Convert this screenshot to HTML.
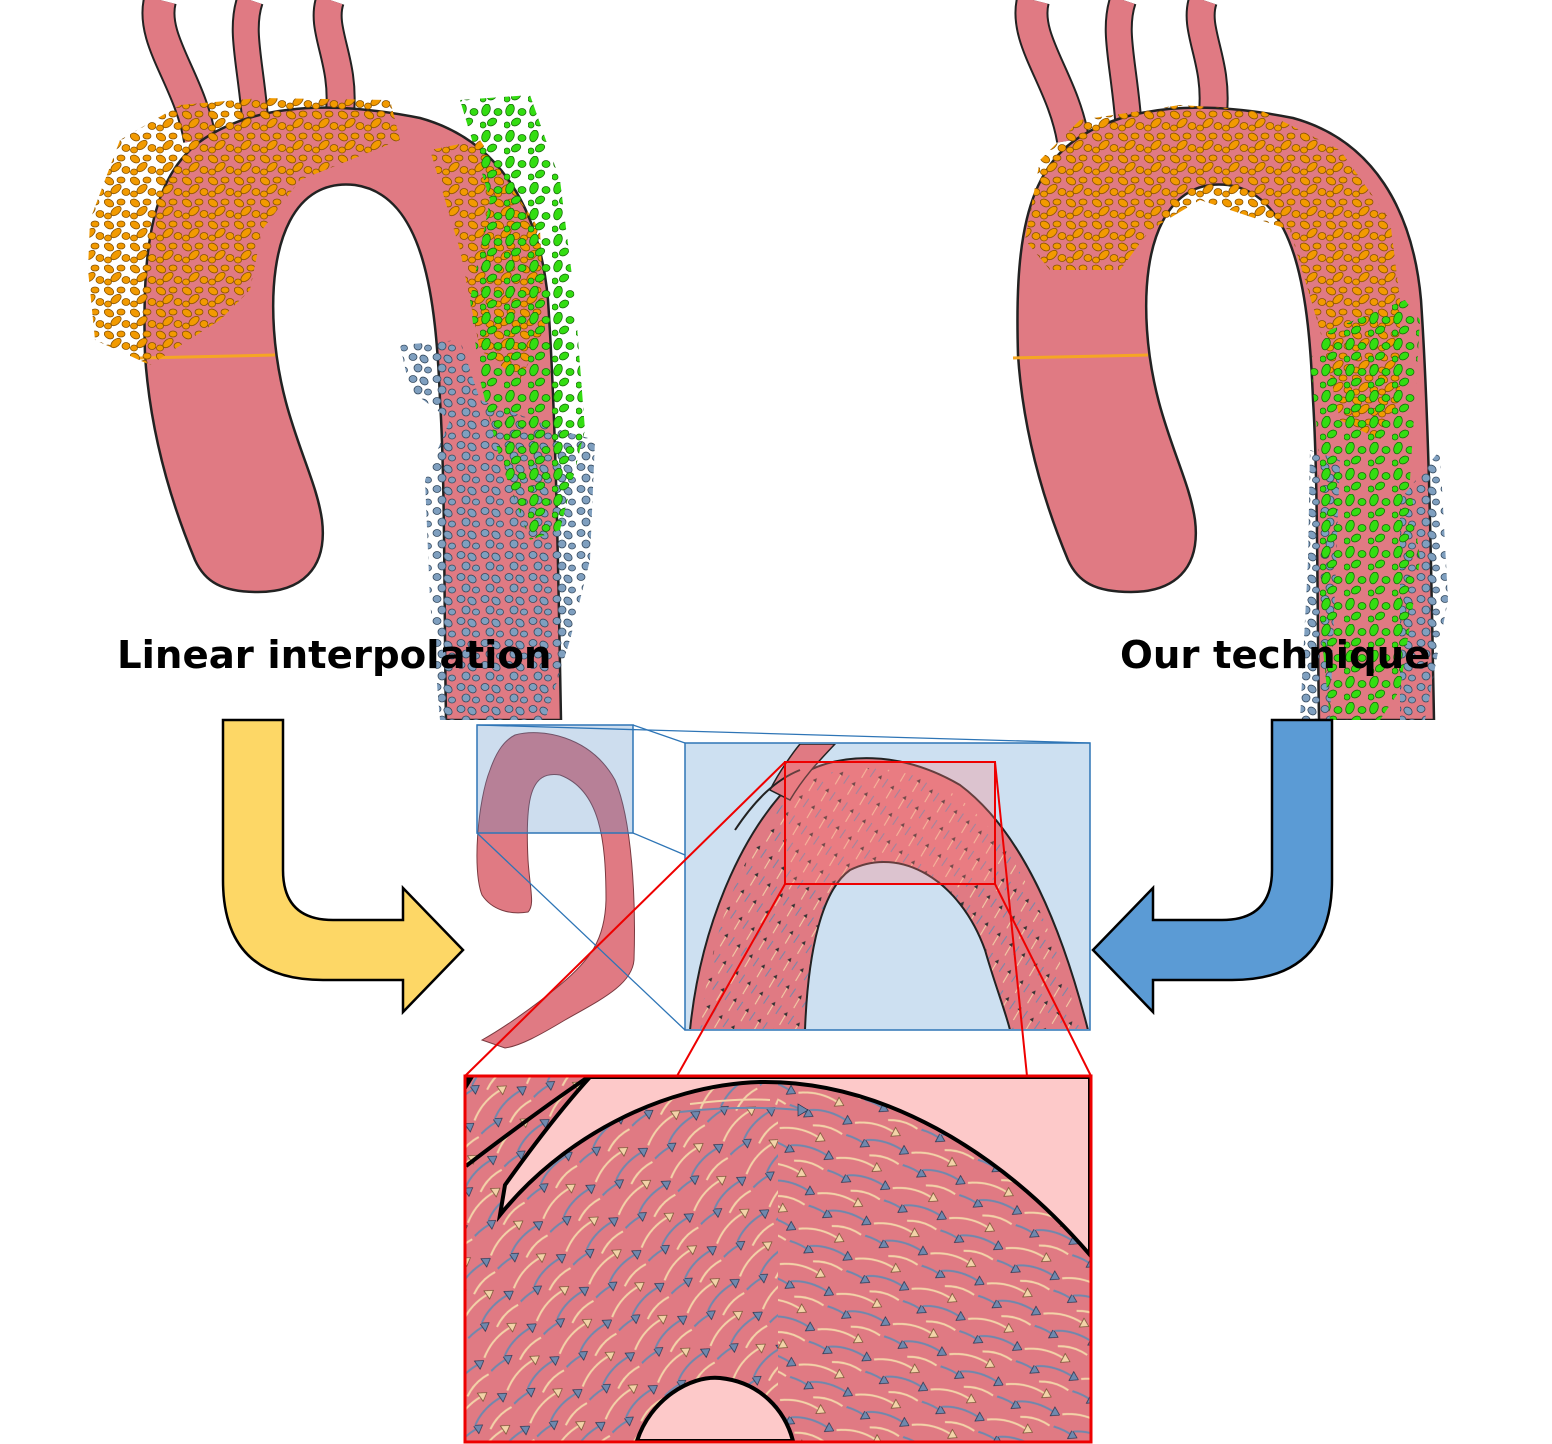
<!DOCTYPE html>
<html><head><meta charset="utf-8"><style>
html,body{margin:0;padding:0;background:#fff;width:1552px;height:1444px;overflow:hidden}
svg{display:block}
text{font-family:"DejaVu Sans","Liberation Sans",sans-serif;font-weight:bold}
</style></head><body>
<svg width="1552" height="1444" viewBox="0 0 1552 1444" xmlns="http://www.w3.org/2000/svg">
<defs>
<clipPath id="topclip"><rect x="0" y="0" width="1552" height="720"/></clipPath>
<clipPath id="botclip"><rect x="466" y="1077" width="624" height="364"/></clipPath>
<clipPath id="midclip"><rect x="686" y="744" width="403" height="285"/></clipPath>
<pattern id="po" width="26" height="22" patternUnits="userSpaceOnUse">
  <g fill="#f29a00" stroke="#8a5200" stroke-width="0.8">
  <ellipse cx="5" cy="5" rx="5" ry="3.5" transform="rotate(30 5 5)"/>
  <ellipse cx="17" cy="4" rx="4" ry="3"/>
  <ellipse cx="12" cy="13" rx="6" ry="3.5" transform="rotate(-40 12 13)"/>
  <ellipse cx="22" cy="16" rx="4" ry="3.5"/>
  <ellipse cx="4" cy="18" rx="3.5" ry="3"/>
  </g>
</pattern>
<pattern id="pg" width="24" height="26" patternUnits="userSpaceOnUse">
  <g fill="#33dd11" stroke="#186e08" stroke-width="0.8">
  <ellipse cx="6" cy="6" rx="4" ry="6" transform="rotate(20 6 6)"/>
  <ellipse cx="18" cy="8" rx="4" ry="3.5"/>
  <ellipse cx="12" cy="18" rx="5" ry="3.5" transform="rotate(-30 12 18)"/>
  <ellipse cx="3" cy="21" rx="3" ry="3"/>
  </g>
</pattern>
<pattern id="pb" width="24" height="22" patternUnits="userSpaceOnUse">
  <g fill="#7f9fbf" stroke="#34495e" stroke-width="0.8">
  <ellipse cx="5" cy="5" rx="4" ry="3.5"/>
  <ellipse cx="16" cy="7" rx="4.5" ry="3.5" transform="rotate(40 16 7)"/>
  <ellipse cx="10" cy="16" rx="4" ry="4"/>
  <ellipse cx="20" cy="18" rx="3.5" ry="3"/>
  </g>
</pattern>
<g id="arrowtile">
  <g fill="none" stroke-width="2">
  <path d="M2,30 Q20,18 42,20" stroke="#f3d3a8"/>
  <path d="M20,40 Q36,30 58,32" stroke="#6f88ad"/>
  <path d="M30,12 Q44,4 60,6" stroke="#f3d3a8"/>
  <path d="M-10,8 Q4,2 20,4" stroke="#6f88ad"/>
  </g>
  <path d="M48,20 L40,15 L40,25 Z" fill="#f3d3a8" stroke="#6b4b2a" stroke-width="0.7"/>
  <path d="M64,32 L56,27 L56,37 Z" fill="#6f88ad" stroke="#1e2f4a" stroke-width="0.7"/>
  <path d="M26,4 L18,-1 L18,9 Z" fill="#6f88ad" stroke="#1e2f4a" stroke-width="0.7"/>
</g>
<pattern id="pa1" width="64" height="40" patternUnits="userSpaceOnUse" patternTransform="rotate(-35)"><use href="#arrowtile"/></pattern>
<pattern id="pa2" width="64" height="40" patternUnits="userSpaceOnUse" patternTransform="rotate(28)"><use href="#arrowtile"/></pattern>
<pattern id="pm" width="22" height="16" patternUnits="userSpaceOnUse" patternTransform="rotate(-50)">
  <path d="M2,8 L14,6" stroke="#f3d3a8" stroke-width="0.9"/>
  <path d="M17,6 L13,4 L13,8 Z" fill="#333"/>
  <path d="M8,14 L18,13" stroke="#6f88ad" stroke-width="0.9"/>
</pattern>
<g id="aorta">
  <path d="M200,140 C190,80 150,40 160,0" fill="none" stroke="#222" stroke-width="34"/>
  <path d="M255,118 C250,60 240,30 250,0" fill="none" stroke="#222" stroke-width="28"/>
  <path d="M340,112 C345,60 320,30 330,0" fill="none" stroke="#222" stroke-width="30"/>
  <path d="M200,140 C190,80 150,40 160,0" fill="none" stroke="#e07a83" stroke-width="30"/>
  <path d="M255,118 C250,60 240,30 250,0" fill="none" stroke="#e07a83" stroke-width="24"/>
  <path d="M340,112 C345,60 320,30 330,0" fill="none" stroke="#e07a83" stroke-width="26"/>
  <path d="M145,355 C142,250 150,170 210,135 C260,105 330,100 420,118 C500,140 540,210 548,300 C556,420 558,560 561,720 L446,720 C444,600 445,480 440,400 C436,300 425,195 355,185 C295,178 268,240 274,330 C280,420 315,470 322,520 C328,570 300,592 258,592 C222,592 205,582 195,560 C170,500 150,430 145,355 Z" fill="#e07a83" stroke="#222" stroke-width="2.5"/>
  <line x1="140" y1="358" x2="275" y2="355" stroke="#f5a623" stroke-width="3"/>
</g>
</defs>
<rect width="1552" height="1444" fill="#fff"/>
<g clip-path="url(#topclip)">
<use href="#aorta"/>
<use href="#aorta" transform="translate(873,0)"/>
<path d="M90,220 L120,140 L180,105 L260,98 L390,100 L400,140 L300,180 L262,230 L250,290 L220,320 L150,365 L95,340 L88,270 Z" fill="url(#po)"/>
<path d="M430,150 L480,140 L540,230 L545,330 L520,380 L480,350 L460,250 Z" fill="url(#po)"/>
<path d="M400,345 L460,340 L480,400 L560,430 L595,440 L590,560 L570,640 L545,720 L440,720 L430,600 L425,480 L450,420 L410,390 Z" fill="url(#pb)"/>
<path d="M460,100 L530,95 L560,180 L575,300 L585,430 L560,530 L530,540 L500,460 L480,380 L470,300 L490,200 Z" fill="url(#pg)"/>
<path d="M1025,240 L1040,160 L1080,120 L1180,105 L1260,110 L1340,150 L1390,220 L1400,300 L1400,400 L1380,440 L1340,420 L1320,330 L1290,230 L1200,200 L1150,230 L1120,270 L1050,270 Z" fill="url(#po)"/>
<path d="M1310,450 L1340,460 L1330,720 L1300,720 L1308,560 Z" fill="url(#pb)"/>
<path d="M1400,500 L1440,450 L1448,600 L1425,720 L1400,720 Z" fill="url(#pb)"/>
<path d="M1310,360 L1330,330 L1405,300 L1420,320 L1410,480 L1420,560 L1400,690 L1380,720 L1330,720 L1318,600 L1318,440 Z" fill="url(#pg)"/>
</g>
<text x="117" y="668" font-size="38.7">Linear interpolation</text>
<text x="1120" y="668" font-size="38.7">Our technique</text>
<path d="M223,720 L283,720 L283,870 Q283,920 333,920 L403,920 L403,888 L463,950 L403,1012 L403,980 L323,980 Q223,980 223,880 Z" fill="#fdd766" stroke="#000" stroke-width="2.5"/>
<path d="M1332,720 L1272,720 L1272,870 Q1272,920 1222,920 L1153,920 L1153,888 L1093,950 L1153,1012 L1153,980 L1232,980 Q1332,980 1332,880 Z" fill="#5b9bd5" stroke="#000" stroke-width="2.5"/>
<path d="M515,735 C540,728 590,735 615,780 C632,820 636,900 634,960 C632,985 600,1000 565,1020 C540,1035 520,1046 505,1048 L482,1040 C500,1030 530,1010 560,985 C590,960 605,940 606,900 C606,840 600,790 560,775 C530,770 525,800 528,860 C530,890 535,905 528,912 C510,915 492,910 482,895 C472,870 478,800 490,770 C497,750 505,740 515,735 Z" fill="#e07a83" stroke="#7a3a40" stroke-width="1"/>
<rect x="477" y="725" width="156" height="108" fill="#5b8fc7" fill-opacity="0.3" stroke="#2e75b6" stroke-width="1.5"/>
<rect x="685" y="743" width="405" height="287" fill="#cde0f1" stroke="#2e75b6" stroke-width="1.5"/>
<g clip-path="url(#midclip)">
<path d="M690,1030 C700,930 740,830 800,775 C840,752 900,750 960,785 C1020,830 1060,920 1088,1030 Z" fill="#e07a83" stroke="#222" stroke-width="2"/>
<path d="M700,1030 C710,930 745,840 800,785 C840,762 900,760 955,795 C1015,840 1055,930 1080,1030 Z" fill="url(#pm)"/>
<path d="M805,1030 C808,950 822,890 850,870 C900,845 960,880 985,950 C995,985 1005,1010 1010,1030 Z" fill="#cde0f1" stroke="#222" stroke-width="2"/>
<path d="M770,790 C780,770 795,750 800,744 L835,744 C820,760 805,775 790,800 Z" fill="#e07a83" stroke="#222" stroke-width="1.5"/>
<path d="M735,830 C755,800 775,780 800,770" fill="none" stroke="#222" stroke-width="2"/>
</g>
<rect x="785" y="762" width="210" height="122" fill="#ff8080" fill-opacity="0.3" stroke="#e00" stroke-width="2"/>
<line x1="477" y1="725" x2="1090" y2="743" stroke="#2e75b6" stroke-width="1.3"/>
<line x1="633" y1="725" x2="685" y2="743" stroke="#2e75b6" stroke-width="1.3"/>
<line x1="477" y1="833" x2="685" y2="1030" stroke="#2e75b6" stroke-width="1.3"/>
<line x1="633" y1="833" x2="685" y2="855" stroke="#2e75b6" stroke-width="1.3"/>
<line x1="785" y1="762" x2="465" y2="1076" stroke="#e00" stroke-width="2"/>
<line x1="785" y1="884" x2="677" y2="1076" stroke="#e00" stroke-width="2"/>
<line x1="995" y1="762" x2="1027" y2="1076" stroke="#e00" stroke-width="2"/>
<line x1="995" y1="884" x2="1091" y2="1076" stroke="#e00" stroke-width="2"/>
<rect x="465" y="1076" width="626" height="366" fill="#e07a83"/>
<g clip-path="url(#botclip)">
<rect x="466" y="1077" width="312" height="364" fill="url(#pa1)"/>
<rect x="778" y="1077" width="312" height="364" fill="url(#pa2)"/>
<path d="M500,1215 C560,1140 660,1085 760,1082 C880,1080 1000,1150 1090,1255 L1090,1077 L590,1077 C560,1110 530,1150 505,1185 Z" fill="#fdc9c9" stroke="#000" stroke-width="4"/>
<path d="M680,1112 Q740,1105 800,1110" fill="none" stroke="#6f88ad" stroke-width="2"/>
<path d="M808,1110 L798,1104 L798,1116 Z" fill="#6f88ad" stroke="#1e2f4a" stroke-width="0.7"/>
<path d="M690,1104 Q740,1098 770,1100" fill="none" stroke="#f3d3a8" stroke-width="2"/>
<path d="M466,1166 C500,1140 540,1110 588,1077" fill="none" stroke="#000" stroke-width="4"/>
<path d="M466,1077 L474,1077 L466,1090 Z" fill="#000"/>
<path d="M637,1441 C650,1400 690,1375 720,1378 C760,1382 785,1410 793,1441 Z" fill="#fdc9c9" stroke="#000" stroke-width="4"/>
</g>
<rect x="465" y="1076" width="626" height="366" fill="none" stroke="#e00" stroke-width="3"/>
</svg>
</body></html>
